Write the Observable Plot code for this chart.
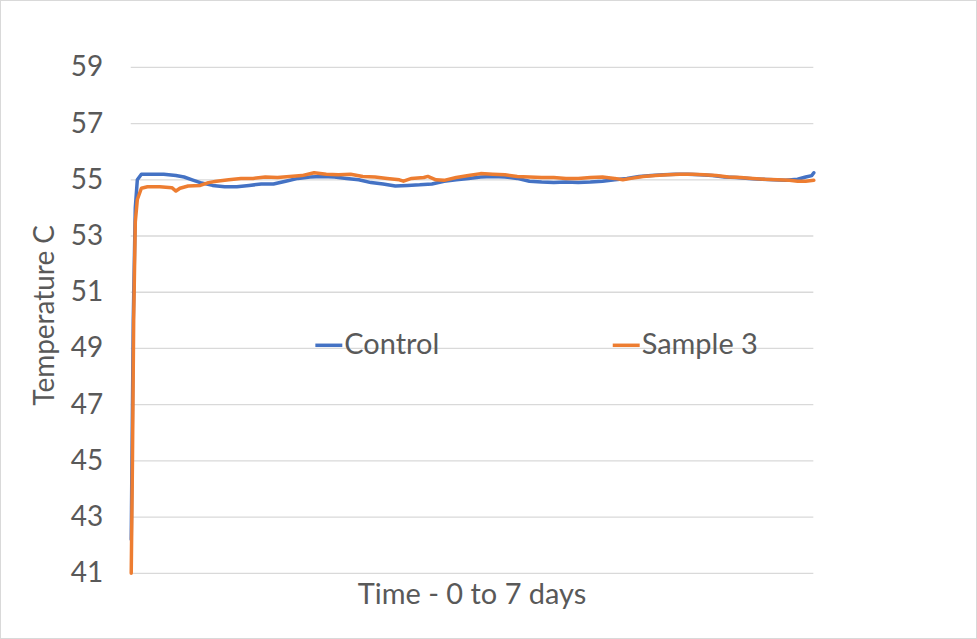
<!DOCTYPE html>
<html><head><meta charset="utf-8">
<script src="https://cdn.jsdelivr.net/npm/d3@7"></script>
<script src="https://cdn.jsdelivr.net/npm/@observablehq/plot@0.6"></script>
<style>
body{margin:0;background:#fff;}
#wrap{position:relative;width:977px;height:639px;box-sizing:border-box;border:1px solid #d9d9d9;overflow:hidden;}
#wrap svg{position:absolute;left:-1px;top:-1px;}
</style></head><body>
<div id="wrap"></div>
<script>
// Time in hours (0..168 = 0 to 7 days)
const controlHours = [0,0.5,1,1.5,2.5,5,8,11,13,15,17,20,23,26,29,32,35,38,41,44,47,50,53,56,59,62,65,68,71,74,77,80,83,86,89,92,95,98,101,104,107,110,113,116,119,122,125,128,131,134,137,140,143,146,149,152,155,158,161,164,166,167.5,168];
const controlTemps = [42.2,50,54.0,55.0,55.2,55.2,55.2,55.15,55.1,55.0,54.9,54.8,54.75,54.75,54.8,54.85,54.85,54.95,55.05,55.1,55.12,55.1,55.05,55.0,54.9,54.85,54.78,54.8,54.82,54.85,54.95,55.0,55.05,55.1,55.12,55.1,55.05,54.95,54.92,54.9,54.92,54.9,54.92,54.95,55.0,55.05,55.12,55.15,55.18,55.2,55.2,55.18,55.15,55.1,55.08,55.05,55.02,55.0,54.98,55.02,55.1,55.15,55.25];
const sampleHours = [0,0.3,0.6,1,1.5,2.5,4,7,10,11,12,14,17,19,21,24,27,30,33,36,39,42,45,48,51,54,57,60,63,66,67,69,72,73,75,77,80,83,86,89,92,95,98,101,104,107,110,113,116,119,121,123,126,129,132,135,138,141,144,147,150,153,156,159,162,164,166,168];
const sampleTemps = [41.0,45,50,53.5,54.3,54.7,54.75,54.75,54.72,54.6,54.7,54.78,54.8,54.9,54.95,55.0,55.05,55.05,55.1,55.08,55.12,55.15,55.25,55.2,55.18,55.2,55.12,55.1,55.05,55.0,54.95,55.05,55.08,55.12,55.0,54.98,55.08,55.15,55.22,55.2,55.18,55.12,55.1,55.08,55.08,55.05,55.05,55.08,55.1,55.05,55.0,55.05,55.12,55.15,55.18,55.2,55.2,55.18,55.15,55.1,55.08,55.05,55.02,55.0,54.98,54.95,54.95,54.98];
const yTicks = [41,43,45,47,49,51,53,55,57,59];
const seriesNames = ["Control","Sample 3"];
const seriesColors = ["#4472C4","#ED7D31"];

const control = controlHours.map((h,i)=>({h, t:controlTemps[i]}));
const sample = sampleHours.map((h,i)=>({h, t:sampleTemps[i]}));

const font = "Lato, 'Open Sans', sans-serif";
const fs = 28;
const chart = Plot.plot({
  width:977, height:639,
  marginLeft:131, marginRight:162, marginTop:67, marginBottom:65,
  style:{fontFamily:font, fontSize:fs+"px", color:"#595959", background:"transparent"},
  x:{domain:[0,168], axis:null},
  y:{domain:[41,59], ticks:yTicks, tickSize:0, tickPadding:28, tickFormat:d=>String(d), label:null},
  marks:[
    Plot.ruleY(yTicks,{stroke:"#D9D9D9", strokeWidth:1.3, strokeOpacity:1}),
    Plot.line(control,{x:"h", y:"t", stroke:seriesColors[0], strokeWidth:3.5, curve:"linear"}),
    Plot.line(sample,{x:"h", y:"t", stroke:seriesColors[1], strokeWidth:3.5, curve:"linear"})
  ]
});
document.getElementById("wrap").appendChild(chart);

const svg = d3.select(chart);
svg.selectAll("[aria-label='y-axis tick label'] text").attr("fill","#595959");
// axis titles
svg.append("text").attr("x",473).attr("y",598).attr("text-anchor","middle").attr("dominant-baseline","middle")
  .attr("font-family",font).attr("font-size",29).attr("fill","#595959").text("Time - 0 to 7 days");
svg.append("text").attr("transform","translate(47,316) rotate(-90)").attr("text-anchor","middle").attr("dominant-baseline","middle")
  .attr("font-family",font).attr("font-size",28).attr("fill","#595959").text("Temperature C");
// legend
const lg = [{x:316},{x:614}];
seriesNames.forEach((n,i)=>{
  const g = svg.append("g");
  g.append("line").attr("x1",lg[i].x).attr("x2",lg[i].x+27).attr("y1",346).attr("y2",346)
    .attr("stroke",seriesColors[i]).attr("stroke-width",3.5);
  g.append("text").attr("x",lg[i].x+29).attr("y",347).attr("text-anchor","start").attr("dominant-baseline","middle")
    .attr("font-family",font).attr("font-size",29).attr("fill","#595959").text(n);
});
</script></body></html>
